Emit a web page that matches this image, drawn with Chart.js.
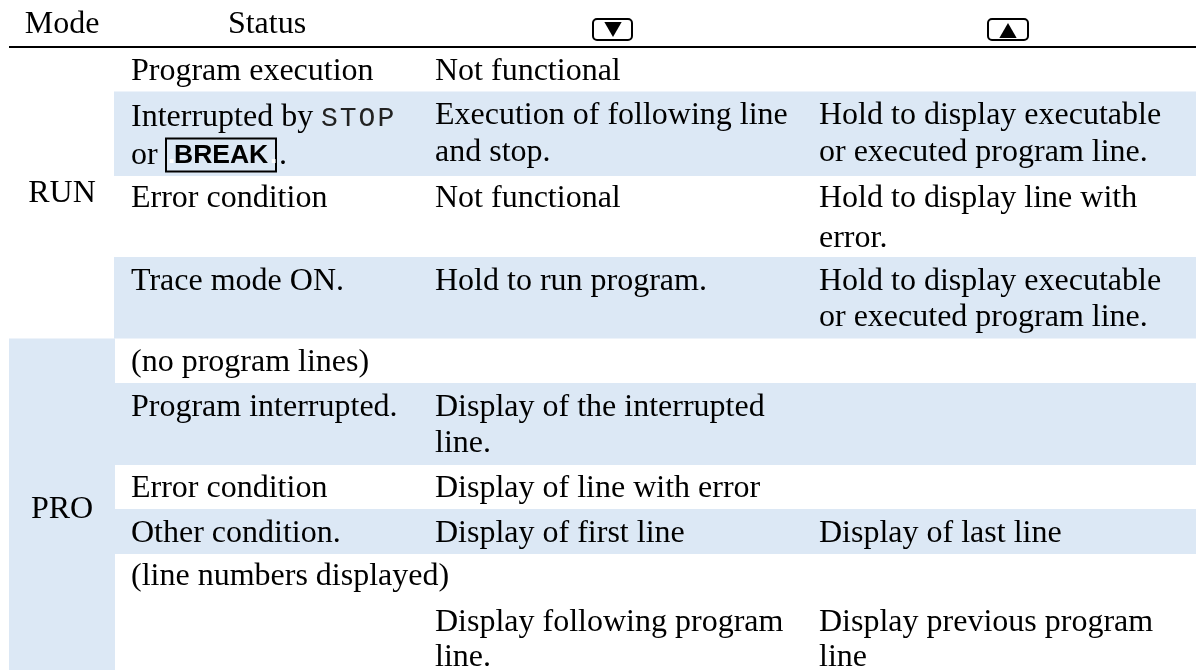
<!DOCTYPE html>
<html>
<head>
<meta charset="utf-8">
<title>Mode table</title>
<script src="https://cdn.jsdelivr.net/npm/chart.js@4/dist/chart.umd.min.js"></script>
<style>
  html, body { margin: 0; padding: 0; background: #fff; }
  canvas { display: block; }
</style>
</head>
<body>
<canvas id="table-chart" width="1196" height="670"></canvas>
<script>
// --- table content ---
const headerLabels = ['Mode', 'Status'];
const modeLabels = ['RUN', 'PRO'];
const statusLines = [
    ['Program execution'],
    ['Interrupted by', 'or'],
    ['Error condition'],
    ['Trace mode ON.'],
    ['(no program lines)'],
    ['Program interrupted.'],
    ['Error condition'],
    ['Other condition.'],
    ['(line numbers displayed)'],
    []
];
const downLines = [
    ['Not functional'],
    ['Execution of following line', 'and stop.'],
    ['Not functional'],
    ['Hold to run program.'],
    [],
    ['Display of the interrupted', 'line.'],
    ['Display of line with error'],
    ['Display of first line'],
    [],
    ['Display following program', 'line.']
];
const upLines = [
    [],
    ['Hold to display executable', 'or executed program line.'],
    ['Hold to display line with', 'error.'],
    ['Hold to display executable', 'or executed program line.'],
    [],
    [],
    [],
    ['Display of last line'],
    [],
    ['Display previous program', 'line']
];
const stopLabel = 'STOP';
const breakLabel = 'BREAK';

// --- layout, in scale units (the scales run 1:1 with the page) ---
const colX = { mode: 62, status: 131, down: 435, up: 819 };
const rowBaselines = [[80], [124, 161], [207, 247], [290, 326], [371], [416, 452], [497], [542], [585], [631, 666]];
const statusBaselines = [[80], [126, 164], [207], [290], [371], [416], [497], [542], [585], []];
const shadedBands = [
    { x0: 114, x1: 1196, y0: 91.5, y1: 176 },
    { x0: 114, x1: 1196, y0: 257, y1: 338.5 },
    { x0: 9, x1: 115, y0: 338.5, y1: 670 },
    { x0: 115, x1: 1196, y0: 383, y1: 465 },
    { x0: 115, x1: 1196, y0: 509, y1: 554 }
];

const BAND = '#dce8f5';
const SERIF = '"Liberation Serif"';

const bandDatasets = shadedBands.map(b => ({
    data: [{ x: b.x0, y: b.y0 }, { x: b.x1, y: b.y0 }],
    borderWidth: 0,
    pointRadius: 0,
    backgroundColor: BAND,
    fill: { target: { value: b.y1 } }
}));

const tablePlugin = {
    id: 'tableText',
    afterDatasetsDraw(chart) {
        const { ctx, scales: { x, y } } = chart;
        const put = (text, px, py, font, align = 'left', color = '#000') => {
            ctx.font = font;
            ctx.textAlign = align;
            ctx.fillStyle = color;
            ctx.textBaseline = 'alphabetic';
            ctx.fillText(text, x.getPixelForValue(px), y.getPixelForValue(py));
        };
        const body = `32px ${SERIF}`;
        ctx.save();

        put(headerLabels[0], colX.mode, 33, body, 'center');
        put(headerLabels[1], 267, 33, body, 'center');
        put(modeLabels[0], colX.mode, 202, body, 'center');
        put(modeLabels[1], colX.mode, 518, body, 'center');

        rowBaselines.forEach((lines, r) => {
            statusBaselines[r].forEach((by, i) => {
                if (statusLines[r][i]) put(statusLines[r][i], colX.status, by, body);
            });
            lines.forEach((by, i) => {
                if (downLines[r][i]) put(downLines[r][i], colX.down, by, body);
                if (upLines[r][i]) put(upLines[r][i], colX.up, by, body);
            });
        });

        // inline bits of the "Interrupted by" row
        ctx.letterSpacing = '2px';
        put(stopLabel, 321, 126, '28px "Liberation Mono"', 'left', '#222');
        ctx.letterSpacing = '0px';
        ctx.strokeStyle = '#000';
        ctx.lineWidth = 2;
        ctx.strokeRect(x.getPixelForValue(166), y.getPixelForValue(138.5), 110, 33);
        put('.', 168, 163, 'bold 26.5px "Liberation Sans"', 'left', '#fff');
        put('.', 270, 163, 'bold 26.5px "Liberation Sans"', 'left', '#fff');
        put(breakLabel, 174, 163, 'bold 26.5px "Liberation Sans"');
        put('.', 279, 164, body);

        // header key caps
        [[593, 632], [988, 1028]].forEach(([a, b]) => {
            ctx.beginPath();
            ctx.roundRect(x.getPixelForValue(a), y.getPixelForValue(19), b - a, 21, 4);
            ctx.lineWidth = 2;
            ctx.stroke();
        });
        ctx.restore();
    }
};

new Chart(document.getElementById('table-chart'), {
    type: 'line',
    data: {
        datasets: [
            ...bandDatasets,
            { // header rule
                data: [{ x: 9, y: 47 }, { x: 1196, y: 47 }],
                borderColor: '#000',
                borderWidth: 2,
                pointRadius: 0,
                fill: false
            },
            { // key cap arrows
                data: [{ x: 613, y: 27 }],
                showLine: false,
                pointStyle: 'triangle',
                rotation: 180,
                radius: 10,
                backgroundColor: '#000',
                borderWidth: 0
            },
            {
                data: [{ x: 1008, y: 33 }],
                showLine: false,
                pointStyle: 'triangle',
                radius: 10,
                backgroundColor: '#000',
                borderWidth: 0
            }
        ]
    },
    options: {
        responsive: false,
        animation: false,
        layout: { padding: 0, autoPadding: false },
        plugins: { legend: { display: false }, tooltip: { enabled: false } },
        scales: {
            x: { type: 'linear', min: 0, max: 1196, display: false },
            y: { type: 'linear', min: 0, max: 670, reverse: true, display: false }
        }
    },
    plugins: [tablePlugin]
});
</script>
</body>
</html>
